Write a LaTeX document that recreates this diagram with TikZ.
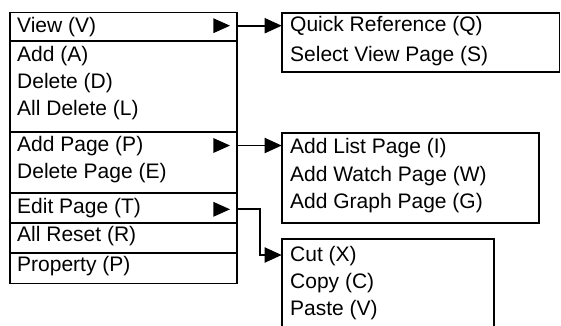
\documentclass[tikz,border=0pt]{standalone}
\usepackage{fontspec}
\setmainfont{Liberation Sans}
\usetikzlibrary{arrows.meta}
\begin{document}
\begin{tikzpicture}[x=1pt,y=-1pt,
  box/.style={draw, line width=1.9pt, inner sep=0pt, outer sep=0pt, anchor=north west},
  lbl/.style={anchor=base west, inner sep=0pt, font=\fontsize{21}{25}\selectfont},
  tri/.style={fill=black},
  conn/.style={line width=1.9pt, -{Triangle[length=17pt,width=15pt]}}]
\useasboundingbox (0,0) rectangle (561,325);
\clip (0,0) rectangle (561,325);
% main menu sections
\node[box, minimum width=226.7pt, minimum height=28.2pt] (s1) at (10,12.5) {};
\node[box, minimum width=226.7pt, minimum height=91.6pt] (s2) at (10,40.7) {};
\node[box, minimum width=226.7pt, minimum height=61pt] (s3) at (10,132.3) {};
\node[box, minimum width=226.7pt, minimum height=30pt] (s4) at (10,193.3) {};
\node[box, minimum width=226.7pt, minimum height=30pt] (s5) at (10,223.3) {};
\node[box, minimum width=226.7pt, minimum height=30.2pt] (s6) at (10,253.3) {};
% submenus
\node[box, minimum width=277.8pt, minimum height=59pt] (sub1) at (281.7,12.7) {};
\node[box, minimum width=257.6pt, minimum height=89.4pt] (sub2) at (281.7,133.3) {};
\node[box, minimum width=212.3pt, minimum height=110pt] (sub3) at (281.7,239) {};
% labels main
\node[lbl] (lView) at (17,32.3) {View (V)};
\node[lbl] (lAdd) at (17,61.7) {Add (A)};
\node[lbl] (lDel) at (17,88.3) {Delete (D)};
\node[lbl] (lAllDel) at (17,115) {All Delete (L)};
\node[lbl] (lAddPage) at (17,151.7) {Add Page (P)};
\node[lbl] (lDelPage) at (17,178.3) {Delete Page (E)};
\node[lbl] (lEdit) at (17,213.3) {Edit Page (T)};
\node[lbl] (lReset) at (17,241) {All Reset (R)};
\node[lbl] (lProp) at (17,271) {Property (P)};
% labels submenus
\node[lbl] (lQuick) at (290,31) {Quick Reference (Q)};
\node[lbl] (lSel) at (290,61) {Select View Page (S)};
\node[lbl] (lList) at (290,153.3) {Add List Page (I)};
\node[lbl] (lWatch) at (290,181) {Add Watch Page (W)};
\node[lbl] (lGraph) at (290,208.3) {Add Graph Page (G)};
\node[lbl] (lCut) at (290,261.7) {Cut (X)};
\node[lbl] (lCopy) at (290,288.3) {Copy (C)};
\node[lbl] (lPaste) at (290,315) {Paste (V)};
% triangles
\coordinate (t1) at (221.6,25.7);
\coordinate (t2) at (221.6,145.5);
\coordinate (t3) at (221.6,209.3);
\foreach \t in {t1,t2,t3}
  \fill[tri] ([shift={(-8.3,-7.5)}]\t) -- ([shift={(8.4,0)}]\t) -- ([shift={(-8.3,7.5)}]\t) -- cycle;
% connectors
\coordinate (sub3in) at (sub3.west |- 0,255);
\draw[conn] (t1 -| s1.east) -- (t1 -| sub1.west);
\draw[conn] (t2 -| s3.east) -- (t2 -| sub2.west);
\draw[conn] (t3 -| s4.east) -- (260,209.3) -- (260,255) -- (sub3in);
\end{tikzpicture}
\end{document}
